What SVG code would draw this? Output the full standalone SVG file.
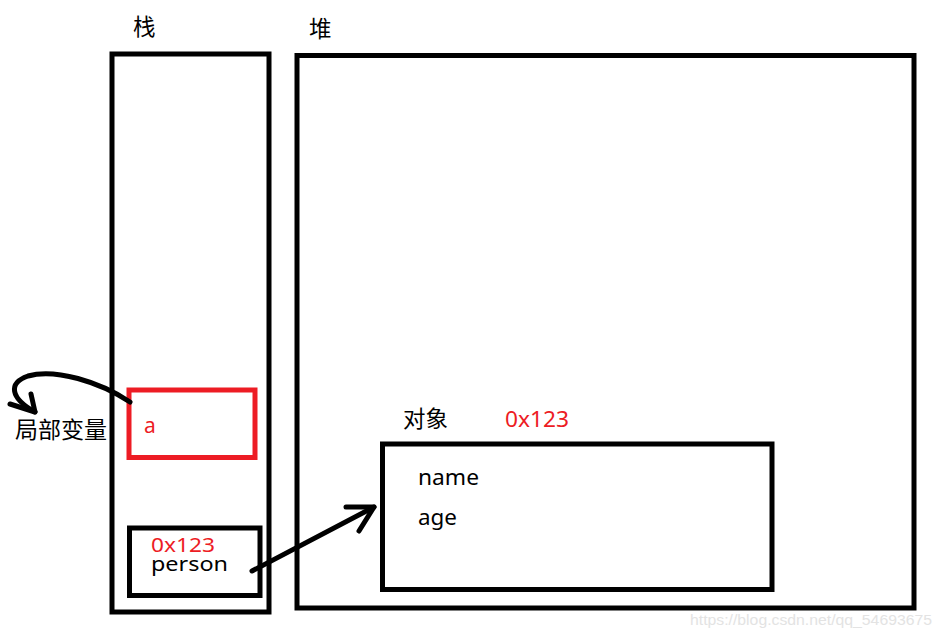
<svg xmlns="http://www.w3.org/2000/svg" width="942" height="636" viewBox="0 0 942 636">
<style>
.box{fill:none;stroke:#000;stroke-width:5}
.red{fill:none;stroke:#ED1C24;stroke-width:5}
.t{font-family:"Noto Sans","Noto Sans CJK SC",sans-serif;font-size:21px;fill:#000}
.cj{font-family:"Noto Sans CJK SC",sans-serif;font-size:22.5px;fill:#000}
.tr{font-family:"Noto Sans","Noto Sans CJK SC",sans-serif;font-size:21px;fill:#ED1C24}
.c{fill:none;stroke:#000;stroke-width:5;stroke-linecap:round;stroke-linejoin:round}
</style>
<rect width="942" height="636" fill="#fff"/>
<g id="stack">
<rect class="box" x="112" y="54" width="157" height="558"/>
<text class="cj" x="133" y="35">栈</text>
</g>
<g id="heap">
<rect class="box" x="297" y="55.5" width="617" height="552.5"/>
<text class="cj" x="309" y="37">堆</text>
</g>
<g id="local-a">
<rect class="red" x="129" y="390" width="126" height="67.5"/>
<text class="tr" x="144" y="433">a</text>
</g>
<g id="person">
<rect class="box" x="129.5" y="528" width="130.5" height="67.5"/>
<text class="tr" x="151" y="552" textLength="64" lengthAdjust="spacingAndGlyphs" style="font-size:20px">0x123</text>
<text class="t" x="151" y="571" textLength="77" lengthAdjust="spacingAndGlyphs" style="font-size:20px">person</text>
</g>
<g id="object">
<rect class="box" x="382.5" y="444" width="389.5" height="145.5"/>
<text class="cj" x="403" y="427">对象</text>
<text class="tr" x="505" y="427" textLength="64" lengthAdjust="spacingAndGlyphs">0x123</text>
<text class="t" x="418" y="485" textLength="61" lengthAdjust="spacingAndGlyphs">name</text>
<text class="t" x="418" y="525" textLength="39" lengthAdjust="spacingAndGlyphs">age</text>
</g>
<g id="label-local">
<text class="cj" x="15" y="438" textLength="92" lengthAdjust="spacingAndGlyphs">局部变量</text>
</g>
<g id="connectors">
<path class="c" d="M130,402 C100,382 55,368 28,376 C8,383 10,398 35,412"/>
<path class="c" d="M10,404 L35,412 L31,394"/>
<path class="c" d="M252,571 L374,507"/>
<path class="c" d="M346,507 L374,507 L359,531"/>
</g>
<text x="690" y="625" textLength="242" lengthAdjust="spacingAndGlyphs" style="font-family:'Liberation Sans',sans-serif;font-size:15px;fill:#e3e3e3">https://blog.csdn.net/qq_54693675</text>
</svg>
